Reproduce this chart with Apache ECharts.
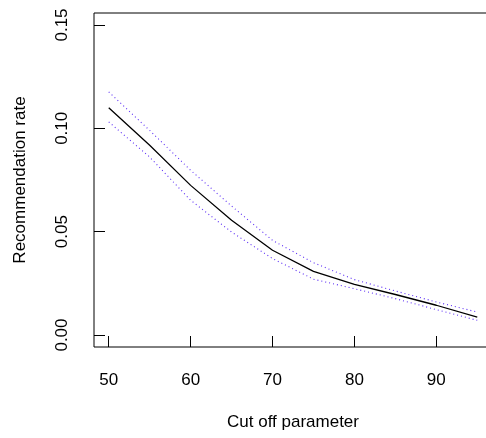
<!DOCTYPE html>
<html>
<head>
<meta charset="utf-8">
<script src="https://cdn.jsdelivr.net/npm/echarts@6/dist/echarts.min.js"></script>
<style>html,body{margin:0;padding:0;background:#fff}#c{width:486px;height:438px}</style>
</head>
<body>
<div id="c"></div>
<script>
const cutoff = [50, 55, 60, 65, 70, 75, 80, 85, 90, 95];
const rate   = [0.1100, 0.0918, 0.0724, 0.0555, 0.0410, 0.0308, 0.0245, 0.0196, 0.0144, 0.0087];
const upper  = [0.1176, 0.0990, 0.0797, 0.0624, 0.0458, 0.0350, 0.0268, 0.0213, 0.0160, 0.0111];
const lower  = [0.1031, 0.0861, 0.0652, 0.0498, 0.0370, 0.0270, 0.0224, 0.0176, 0.0123, 0.0071];
const xTicks = [50, 60, 70, 80, 90];
const yTicks = [0, 0.05, 0.10, 0.15];

const font = 'Liberation Sans, Arial, Helvetica, sans-serif';
const pairs = arr => cutoff.map((x, i) => [x, arr[i]]);

const chart = echarts.init(document.getElementById('c'), null, {renderer: 'canvas'});
chart.setOption({
  animation: false,
  backgroundColor: '#ffffff',
  grid: {
    left: 94, top: 13, width: 398, height: 334,
    show: true, borderColor: '#000', borderWidth: 1,
    containLabel: false, outerBoundsMode: 'none'
  },
  xAxis: {
    type: 'value', min: 48.2, max: 96.8,
    name: 'Cut off parameter', nameLocation: 'middle', nameGap: 67,
    nameTextStyle: {color: '#000', fontSize: 17, fontFamily: font},
    axisLine: {show: false, onZero: false},
    splitLine: {show: false},
    axisTick: {show: true, inside: true, length: 11, lineStyle: {color: '#000', width: 1}, customValues: xTicks},
    axisLabel: {color: '#000', fontSize: 17, fontFamily: font, margin: 25, customValues: xTicks,
      formatter: v => String(v)}
  },
  yAxis: {
    type: 'value', min: -0.0058, max: 0.1558,
    name: 'Recommendation rate', nameLocation: 'middle', nameGap: 65, nameRotate: 90,
    nameTextStyle: {color: '#000', fontSize: 17, fontFamily: font},
    axisLine: {show: false, onZero: false},
    splitLine: {show: false},
    axisTick: {show: true, inside: true, length: 11, lineStyle: {color: '#000', width: 1}, customValues: yTicks},
    axisLabel: {color: '#000', fontSize: 17, fontFamily: font, margin: 23, rotate: 90, customValues: yTicks,
      formatter: v => v.toFixed(2)}
  },
  series: [
    {type: 'line', data: pairs(upper), symbol: 'none', clip: true,
     lineStyle: {color: '#5a2cf5', width: 1.1, type: [1, 3]}},
    {type: 'line', data: pairs(lower), symbol: 'none', clip: true,
     lineStyle: {color: '#5a2cf5', width: 1.1, type: [1, 3]}},
    {type: 'line', data: pairs(rate), symbol: 'none', clip: true,
     lineStyle: {color: '#000', width: 1.3}}
  ]
});
</script>
</body>
</html>
